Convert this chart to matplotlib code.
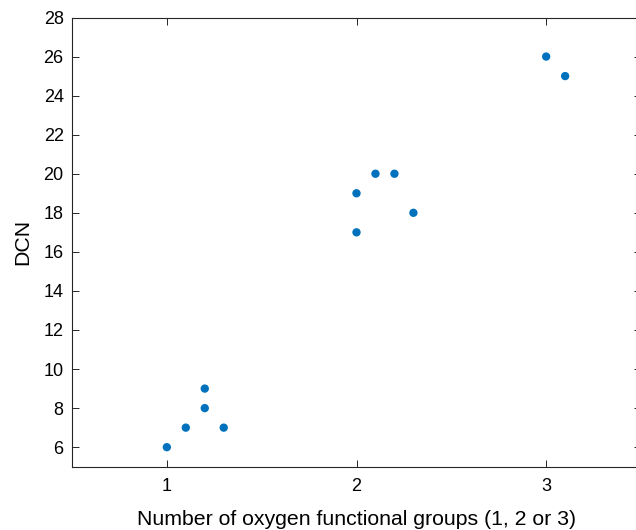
import matplotlib.pyplot as plt

groups = [1.0, 1.1, 1.2, 1.2, 1.3, 2.0, 2.0, 2.1, 2.2, 2.3, 3.0, 3.1]
dcn = [6, 7, 8, 9, 7, 17, 19, 20, 20, 18, 26, 25]

x_ticks = [1, 2, 3]
y_ticks = list(range(6, 29, 2))

plt.rcParams['font.family'] = ['Liberation Sans', 'DejaVu Sans']
axis_col = '#262626'

fig = plt.figure(figsize=(6.36, 5.3), dpi=100)
ax = fig.add_axes([72 / 636, 63.3 / 530, 569 / 636, 449.2 / 530])

ax.scatter(groups, dcn, s=36, color='#0072BD', edgecolors='none', zorder=3)

ax.set_xlim(0.5, 3.5)
ax.set_ylim(5, 28)
ax.set_xticks(x_ticks)
ax.set_yticks(y_ticks)
ax.tick_params(direction='in', top=True, right=True, length=5, width=0.7,
               colors=axis_col, labelcolor='black', labelsize=13)
ax.tick_params(axis='y', pad=6)
ax.tick_params(axis='x', pad=8)
for sp in ax.spines.values():
    sp.set_color(axis_col)
    sp.set_linewidth(0.8)

ax.set_xlabel('Number of oxygen functional groups (1, 2 or 3)', fontsize=15.3, labelpad=11)
ax.set_ylabel('DCN', fontsize=15.3, labelpad=8)

fig.savefig('out.png', dpi=100)
